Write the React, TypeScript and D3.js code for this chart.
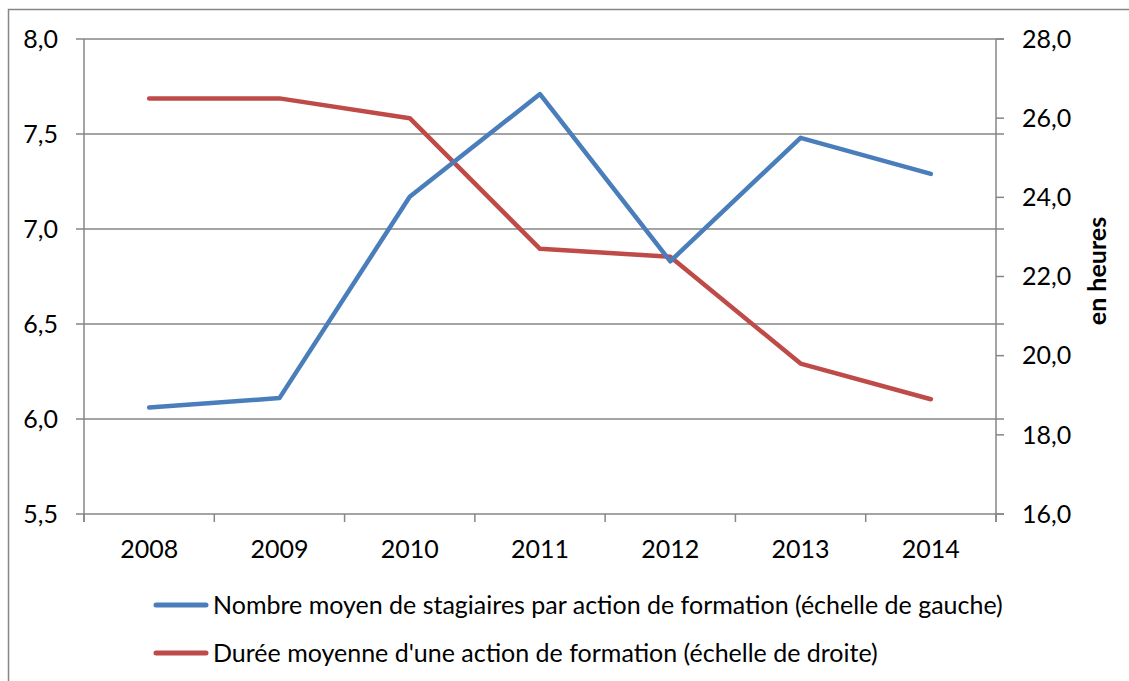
import React from "react";
import * as d3 from "d3";

const years = ["2008", "2009", "2010", "2011", "2012", "2013", "2014"];
const stagiaires = [6.06, 6.11, 7.17, 7.71, 6.83, 7.48, 7.29];
const duree = [26.5, 26.5, 26.0, 22.7, 22.5, 19.8, 18.9];
const leftTicks = [5.5, 6.0, 6.5, 7.0, 7.5, 8.0];
const rightTicks = [16, 18, 20, 22, 24, 26, 28];
const legendLabels = [
  "Nombre moyen de stagiaires par action de formation (échelle de gauche)",
  "Durée moyenne d'une action de formation (échelle de droite)",
];
const rightAxisTitle = "en heures";

const W = 1129;
const H = 681;
const L = 84, R = 996, T = 39, B = 514;
const BLUE = "#4A7EBB";
const RED = "#BE4B48";
const GRID = "#868686";
const FONT = "Lato, 'Open Sans', sans-serif";
const FS = 25;

export default function App() {
  const x = d3.scaleBand<string>().domain(years).range([L, R]).padding(0);
  const yl = d3.scaleLinear().domain([5.5, 8.0]).range([B, T]);
  const yr = d3.scaleLinear().domain([16, 28]).range([B, T]);
  const fmt = (v: number) => d3.format(".1f")(v).replace(".", ",");
  const cx = (d: string) => (x(d) as number) + x.bandwidth() / 2;

  const lineL = d3.line<number>().x((_, i) => cx(years[i])).y((v) => yl(v));
  const lineR = d3.line<number>().x((_, i) => cx(years[i])).y((v) => yr(v));

  const boundaries = [...years.map((d) => x(d) as number), R];

  return (
    <svg width={W} height={H} style={{ position: "absolute", left: 0, top: 0, display: "block" }}>
      <rect x={0} y={0} width={W} height={H} fill="#fff" />
      <rect x={8.5} y={9.5} width={W + 20} height={H + 20} fill="none" stroke={GRID} strokeWidth={1.5} />
      {leftTicks.map((t) => (
        <line key={"g" + t} x1={L - 8} x2={R + 8} y1={yl(t)} y2={yl(t)} stroke={GRID} strokeWidth={1.5} />
      ))}
      <line x1={L} x2={L} y1={T} y2={B + 8} stroke={GRID} strokeWidth={1.5} />
      <line x1={R} x2={R} y1={T} y2={B + 8} stroke={GRID} strokeWidth={1.5} />
      {boundaries.map((b, i) => (
        <line key={"xt" + i} x1={b} x2={b} y1={B} y2={B + 8} stroke={GRID} strokeWidth={1.5} />
      ))}
      {rightTicks.map((t) => (
        <line key={"rt" + t} x1={R} x2={R + 8} y1={yr(t)} y2={yr(t)} stroke={GRID} strokeWidth={1.5} />
      ))}
      {leftTicks.map((t) => (
        <text key={"lt" + t} x={58} y={yl(t)} dy="0.35em" textAnchor="end" fontFamily={FONT} fontSize={FS} fill="#000">
          {fmt(t)}
        </text>
      ))}
      {rightTicks.map((t) => (
        <text key={"rl" + t} x={1022} y={yr(t)} dy="0.35em" textAnchor="start" fontFamily={FONT} fontSize={FS} fill="#000">
          {fmt(t)}
        </text>
      ))}
      {years.map((d) => (
        <text key={"x" + d} x={cx(d)} y={549} dy="0.35em" textAnchor="middle" fontFamily={FONT} fontSize={FS} fill="#000">
          {d}
        </text>
      ))}
      <text
        transform={`translate(1097,271) rotate(-90)`}
        textAnchor="middle"
        dy="0.35em"
        fontFamily={FONT}
        fontSize={25}
        fontWeight="bold"
        fill="#000"
      >
        {rightAxisTitle}
      </text>
      <path d={lineR(duree) || ""} fill="none" stroke={RED} strokeWidth={4.5} strokeLinejoin="round" strokeLinecap="round" />
      <path d={lineL(stagiaires) || ""} fill="none" stroke={BLUE} strokeWidth={4.5} strokeLinejoin="round" strokeLinecap="round" />
      {legendLabels.map((lab, i) => {
        const y = 605 + i * 48;
        return (
          <g key={"lg" + i}>
            <line x1={156} x2={206} y1={y} y2={y} stroke={i === 0 ? BLUE : RED} strokeWidth={5} strokeLinecap="round" />
            <text x={213} y={y} dy="0.35em" fontFamily={FONT} fontSize={FS} fill="#000">
              {lab}
            </text>
          </g>
        );
      })}
    </svg>
  );
}
